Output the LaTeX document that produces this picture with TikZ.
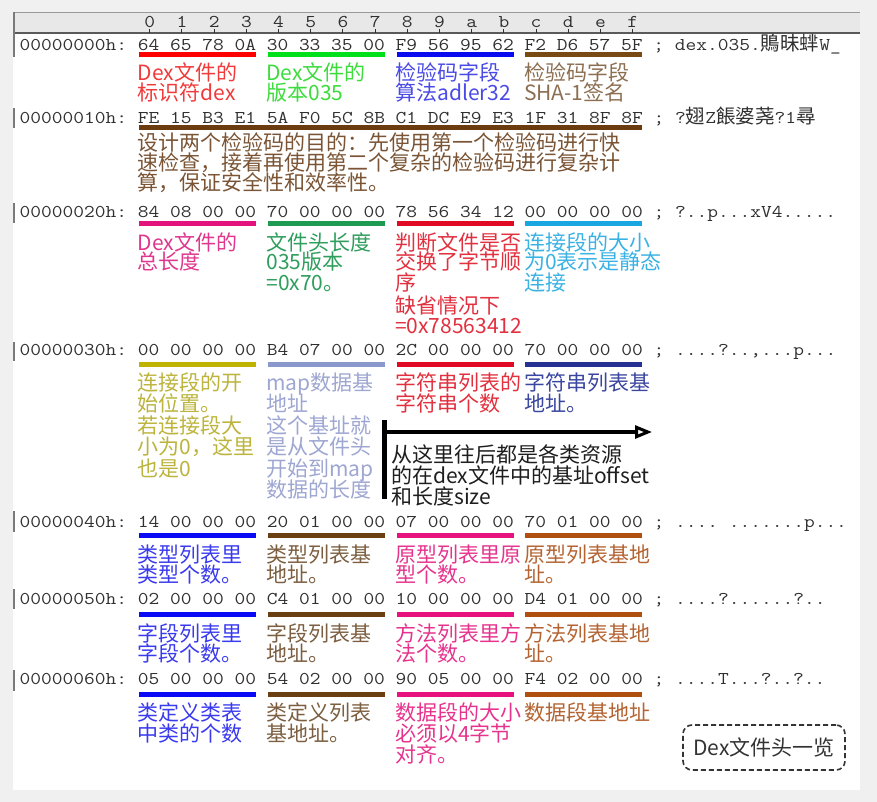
\documentclass[tikz,border=0pt]{standalone}
\usepackage{fontspec}
\usepackage{graphicx}
\newfontfamily\cjk{Noto Sans CJK SC}
\usetikzlibrary{arrows.meta}
\definecolor{hexgray}{HTML}{303030}
\definecolor{bgout}{HTML}{F0F0F0}
\definecolor{hdrfill}{HTML}{E8E8E8}
\definecolor{hdrline}{HTML}{9A9A9A}
\definecolor{hdrbot}{HTML}{5A5A5A}
\definecolor{markgray}{HTML}{7A7A7A}
\definecolor{boxgray}{HTML}{333333}
% row 0
\definecolor{bR}{HTML}{FF0000}\definecolor{tR}{HTML}{F23A3A}
\definecolor{bG}{HTML}{00E01A}\definecolor{tG}{HTML}{3DDC3D}
\definecolor{bB}{HTML}{0A0AF0}\definecolor{tB}{HTML}{4A4AE6}
\definecolor{bBr}{HTML}{7A4A14}\definecolor{tBr}{HTML}{8C6E50}
% row 1
\definecolor{bOne}{HTML}{6A3C10}\definecolor{tOne}{HTML}{7A5434}
% row 2
\definecolor{bPk}{HTML}{E3127D}\definecolor{tPk}{HTML}{E0368E}
\definecolor{bGn}{HTML}{1E9A52}\definecolor{tGn}{HTML}{2E9E5C}
\definecolor{bRd}{HTML}{E00A24}\definecolor{tRd}{HTML}{E2303E}
\definecolor{bCy}{HTML}{1AA6E0}\definecolor{tCy}{HTML}{3AB2E4}
% row 3
\definecolor{bOl}{HTML}{BDB300}\definecolor{tOl}{HTML}{BCB43C}
\definecolor{bPe}{HTML}{8A98CC}\definecolor{tPe}{HTML}{9EA6D2}
\definecolor{bNv}{HTML}{263292}\definecolor{tNv}{HTML}{3A46A0}
% rows 4-6
\definecolor{bBl}{HTML}{0A0AF5}\definecolor{tBl}{HTML}{3A3AEE}
\definecolor{bBn}{HTML}{6A3F12}\definecolor{tBn}{HTML}{7C5E40}
\definecolor{bPi}{HTML}{E8127E}\definecolor{tPi}{HTML}{E6348E}
\definecolor{bOr}{HTML}{B0500F}\definecolor{tOr}{HTML}{B46432}
\definecolor{tBk}{HTML}{1E1E1E}

\newcommand\hexf{\fontsize{18}{18}\selectfont\ttfamily\frenchspacing}
\newcommand\hx[1]{\scalebox{1.159}[1]{\hexf #1}}
\newcommand\cjc[1]{{\cjk\fontsize{19.5}{19.5}\selectfont #1}}
\newcommand\noteblock[2]{\vtop{\baselineskip=#1pt\lineskiplimit=-60pt\lineskip=0pt\relax #2}}

\tikzset{
  hexrow/.style={anchor=base west, inner sep=0pt, text=hexgray},
  hexdigit/.style={anchor=base, inner sep=0pt, text=hexgray},
  note/.style={anchor=base west, inner sep=0pt, font=\cjk\fontsize{21}{21}\selectfont},
  bar/.style={line width=5pt},
  rowmark/.style={draw=markgray, line width=2pt},
  tickmark/.style={draw=hexgray, line width=1pt},
  bigarrow/.style={line width=4.5pt, draw=black},
  titlebox/.style={draw=boxgray, dash pattern=on 5pt off 3pt, line width=1.6pt,
    rounded corners=9pt, minimum width=162pt, minimum height=45pt, inner sep=0pt,
    font=\cjk\fontsize{21}{21}\selectfont, text=boxgray}
}

\begin{document}
\begin{tikzpicture}[x=1pt,y=-1pt]
\useasboundingbox (0,0) rectangle (877,802);
\fill[bgout] (0,0) rectangle (877,802);
\fill[white] (13,12) rectangle (860,790);

% header bar
\fill[hdrfill] (13,12) rectangle (860,33);
\draw[hdrline, line width=1.5pt] (13,12.5) -- (860,12.5);
\draw[hdrbot, line width=1.5pt] (13,33) -- (860,33);
\draw[rowmark] (14,12) -- (14,57);
\foreach \dg [count=\i from 0] in {0,1,2,3,4,5,6,7,8,9,a,b,c,d,e,f}{
  \node[hexdigit] (h\i) at ({149.8+32.19*\i},28) {\hx{\dg}};
  \draw[tickmark] (h\i.base) ++(0,1) -- ++(0,4);
}

% hex rows
\node[hexrow] (r0) at (19.5,51) {\hx{00000000h: 64 65 78 0A 30 33 35 00 F9 56 95 62 F2 D6 57 5F ; dex.035.}\cjc{鵙昧蝆}\hx{W\_}};
\node[hexrow] (r1) at (19.5,123.5) {\hx{00000010h: FE 15 B3 E1 5A F0 5C 8B C1 DC E9 E3 1F 31 8F 8F ; ?}\cjc{翅}\hx{Z}\cjc{餦婆荛}\hx{?1}\cjc{尋}};
\node[hexrow] (r2) at (19.5,217.5) {\hx{00000020h: 84 08 00 00 70 00 00 00 78 56 34 12 00 00 00 00 ; ?..p...xV4.....}};
\node[hexrow] (r3) at (19.5,355.5) {\hx{00000030h: 00 00 00 00 B4 07 00 00 2C 00 00 00 70 00 00 00 ; ....?..,...p...}};
\node[hexrow] (r4) at (19.5,527) {\hx{00000040h: 14 00 00 00 20 01 00 00 07 00 00 00 70 01 00 00 ; .... .......p...}};
\node[hexrow] (r5) at (19.5,604) {\hx{00000050h: 02 00 00 00 C4 01 00 00 10 00 00 00 D4 01 00 00 ; ....?......?..}};
\node[hexrow] (r6) at (19.5,684) {\hx{00000060h: 05 00 00 00 54 02 00 00 90 05 00 00 F4 02 00 00 ; ....T...?..?..}};

% row markers
\draw[rowmark] (14,108) -- (14,128);
\draw[rowmark] (14,203) -- (14,223);
\draw[rowmark] (14,342) -- (14,361);
\draw[rowmark] (14,511) -- (14,532);
\draw[rowmark] (14,589) -- (14,609);
\draw[rowmark] (14,670) -- (14,691);

% ---------- row 0 ----------
\draw[bar,bR]  (139,54.5) -- (256,54.5);
\draw[bar,bG]  (267.8,54.5) -- (384.8,54.5);
\draw[bar,bB]  (396.5,54.5) -- (513.5,54.5);
\draw[bar,bBr] (525.3,54.5) -- (642.3,54.5);
\node[note,text=tR]  (n00) at (137.5,81) {\noteblock{19.5}{\hbox{Dex文件的}\hbox{标识符dex}}};
\node[note,text=tG]  (n01) at (266.3,81) {\noteblock{19.5}{\hbox{Dex文件的}\hbox{版本035}}};
\node[note,text=tB]  (n02) at (395,81)   {\noteblock{19.5}{\hbox{检验码字段}\hbox{算法adler32}}};
\node[note,text=tBr] (n03) at (523.8,81) {\noteblock{19.5}{\hbox{检验码字段}\hbox{SHA-1签名}}};

% ---------- row 1 ----------
\draw[bar,bOne] (139,128) -- (642.3,128);
\node[note,text=tOne] (n10) at (137.5,151) {\noteblock{20}{\hbox{设计两个检验码的目的：先使用第一个检验码进行快}\hbox{速检查，接着再使用第二个复杂的检验码进行复杂计}\hbox{算，保证安全性和效率性。}}};

% ---------- row 2 ----------
\draw[bar,bPk] (139,223.3) -- (256,223.3);
\draw[bar,bGn] (267.8,223.3) -- (384.8,223.3);
\draw[bar,bRd] (396.5,223.3) -- (513.5,223.3);
\draw[bar,bCy] (525.3,223.3) -- (642.3,223.3);
\node[note,text=tPk] (n20) at (137.5,250) {\noteblock{20}{\hbox{Dex文件的}\hbox{总长度}}};
\node[note,text=tGn] (n21) at (266.3,250) {\noteblock{20}{\hbox{文件头长度}\hbox{035版本}\hbox{=0x70。}}};
\node[note,text=tRd] (n22) at (395,250)   {\noteblock{20}{\hbox{判断文件是否}\hbox{交换了字节顺}\hbox{序}\kern3pt\hbox{缺省情况下}\hbox{=0x78563412}}};
\node[note,text=tCy] (n23) at (523.8,250) {\noteblock{20}{\hbox{连接段的大小}\hbox{为0表示是静态}\hbox{连接}}};

% ---------- row 3 ----------
\draw[bar,bOl] (139,364.5) -- (256,364.5);
\draw[bar,bPe] (267.8,364.5) -- (384.8,364.5);
\draw[bar,bRd] (396.5,364.5) -- (513.5,364.5);
\draw[bar,bNv] (525.3,364.5) -- (642.3,364.5);
\node[note,text=tOl] (n30) at (137.5,390) {\noteblock{21.5}{\hbox{连接段的开}\hbox{始位置。}\hbox{若连接段大}\hbox{小为0，这里}\hbox{也是0}}};
\node[note,text=tPe] (n31) at (266.3,390) {\noteblock{21.5}{\hbox{map数据基}\hbox{地址}\hbox{这个基址就}\hbox{是从文件头}\hbox{开始到map}\hbox{数据的长度}}};
\node[note,text=tRd] (n32) at (395,390)   {\noteblock{21.5}{\hbox{字符串列表的}\hbox{字符串个数}}};
\node[note,text=tNv] (n33) at (523.8,390) {\noteblock{21.5}{\hbox{字符串列表基}\hbox{地址。}}};

% arrow and explanation
\coordinate (vtop) at (384.5,420);
\coordinate (vbot) at (384.5,499);
\coordinate (astart) at (384.5,432);
\coordinate (aend) at (652,432);
\draw[bigarrow] (vtop) -- (vbot);
\draw[bigarrow, -{Triangle[open, line width=3pt, length=17pt, width=13pt]}] (astart) -- (aend);
\node[note,text=tBk] (nx) at (391,462) {\noteblock{21}{\hbox{从这里往后都是各类资源}\hbox{的在dex文件中的基址offset}\hbox{和长度size}}};

% ---------- row 4 ----------
\draw[bar,bBl] (139,535) -- (256,535);
\draw[bar,bBn] (267.8,535) -- (384.8,535);
\draw[bar,bPi] (396.5,535) -- (513.5,535);
\draw[bar,bOr] (525.3,535) -- (642.3,535);
\node[note,text=tBl] (n40) at (137.5,562) {\noteblock{20}{\hbox{类型列表里}\hbox{类型个数。}}};
\node[note,text=tBn] (n41) at (266.3,562) {\noteblock{20}{\hbox{类型列表基}\hbox{地址。}}};
\node[note,text=tPi] (n42) at (395,562)   {\noteblock{20}{\hbox{原型列表里原}\hbox{型个数。}}};
\node[note,text=tOr] (n43) at (523.8,562) {\noteblock{20}{\hbox{原型列表基地}\hbox{址。}}};

% ---------- row 5 ----------
\draw[bar,bBl] (139,614) -- (256,614);
\draw[bar,bBn] (267.8,614) -- (384.8,614);
\draw[bar,bPi] (396.5,614) -- (513.5,614);
\draw[bar,bOr] (525.3,614) -- (642.3,614);
\node[note,text=tBl] (n50) at (137.5,641) {\noteblock{20}{\hbox{字段列表里}\hbox{字段个数。}}};
\node[note,text=tBn] (n51) at (266.3,641) {\noteblock{20}{\hbox{字段列表基}\hbox{地址。}}};
\node[note,text=tPi] (n52) at (395,641)   {\noteblock{20}{\hbox{方法列表里方}\hbox{法个数。}}};
\node[note,text=tOr] (n53) at (523.8,641) {\noteblock{20}{\hbox{方法列表基地}\hbox{址。}}};

% ---------- row 6 ----------
\draw[bar,bBl] (139,694) -- (256,694);
\draw[bar,bBn] (267.8,694) -- (384.8,694);
\draw[bar,bPi] (396.5,694) -- (513.5,694);
\draw[bar,bOr] (525.3,694) -- (642.3,694);
\node[note,text=tBl] (n60) at (137.5,720) {\noteblock{21}{\hbox{类定义类表}\hbox{中类的个数}}};
\node[note,text=tBn] (n61) at (266.3,720) {\noteblock{21}{\hbox{类定义列表}\hbox{基地址。}}};
\node[note,text=tPi] (n62) at (395,720)   {\noteblock{21}{\hbox{数据段的大小}\hbox{必须以4字节}\hbox{对齐。}}};
\node[note,text=tOr] (n63) at (523.8,720) {\noteblock{21}{\hbox{数据段基地址}}};

% title box
\node[titlebox] (title) at (764,747.5) {Dex文件头一览};
\end{tikzpicture}
\end{document}
